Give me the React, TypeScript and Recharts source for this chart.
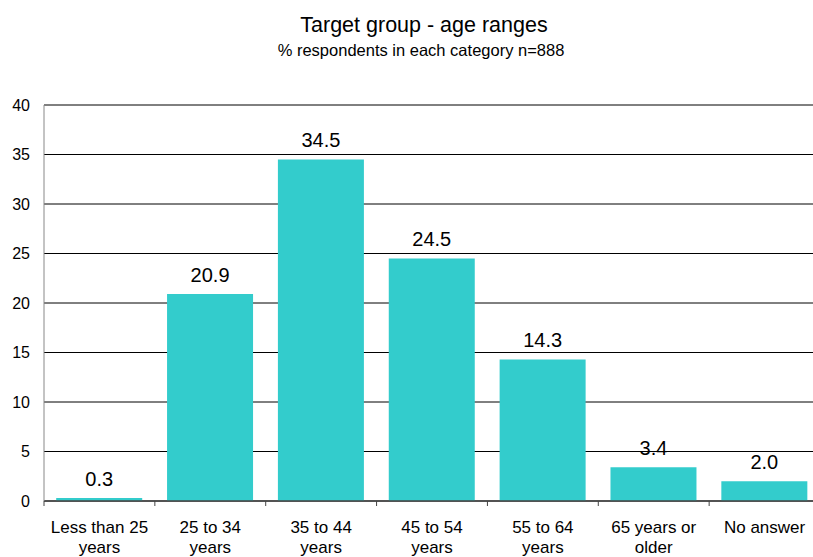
import React from 'react';
import { BarChart, Bar, XAxis, YAxis, CartesianGrid, LabelList, Text } from 'recharts';

const categories = [
  'Less than 25 years',
  '25 to 34 years',
  '35 to 44 years',
  '45 to 54 years',
  '55 to 64 years',
  '65 years or older',
  'No answer',
];
const shares = [0.3, 20.9, 34.5, 24.5, 14.3, 3.4, 2.0];
const yTicks = [0, 5, 10, 15, 20, 25, 30, 35, 40];

const data = categories.map((name, i) => ({ name, value: shares[i] }));

const FONT = '"Liberation Sans", Arial, sans-serif';
const WIDTH = 830;
const HEIGHT = 557;
const MARGIN = { top: 105, right: 10, left: 0, bottom: 0 };
const Y_AXIS_W = 44;
const X_AXIS_H = 56;
const PLOT_BOTTOM = HEIGHT - MARGIN.bottom - X_AXIS_H;
const BAND = (WIDTH - MARGIN.left - MARGIN.right - Y_AXIS_W) / categories.length;

const CategoryTick = (props: any) => {
  const { x, payload, index } = props;
  return (
    <g>
      {index === 0 && (
        <line x1={x - BAND / 2} x2={x - BAND / 2} y1={PLOT_BOTTOM} y2={PLOT_BOTTOM + 5} stroke="#444" />
      )}
      <line x1={x + BAND / 2} x2={x + BAND / 2} y1={PLOT_BOTTOM} y2={PLOT_BOTTOM + 5} stroke="#444" />
      <Text
        x={x}
        y={PLOT_BOTTOM + 20}
        width={98}
        textAnchor="middle"
        verticalAnchor="start"
        lineHeight={20}
        style={{ fontFamily: FONT, fontSize: 17 }}
        fill="#000"
      >
        {payload.value}
      </Text>
    </g>
  );
};

const App: React.FC = () => {
  return (
    <div
      style={{
        position: 'fixed',
        left: 0,
        top: 0,
        width: 813,
        height: 557,
        overflow: 'hidden',
        background: '#fff',
        fontFamily: FONT,
      }}
    >
      <div
        style={{
          position: 'absolute',
          left: 0,
          top: 15,
          width: 848,
          textAlign: 'center',
          fontSize: 21.5,
          lineHeight: '21px',
          color: '#000',
        }}
      >
        Target group - age ranges
      </div>
      <div
        style={{
          position: 'absolute',
          left: 0,
          top: 42,
          width: 842,
          textAlign: 'center',
          fontSize: 16.5,
          lineHeight: '16px',
          color: '#000',
        }}
      >
        % respondents in each category n=888
      </div>
      <div style={{ position: 'absolute', left: 0, top: 0 }}>
        <BarChart width={WIDTH} height={HEIGHT} data={data} margin={MARGIN} barCategoryGap="11%">
          <CartesianGrid horizontal vertical={false} stroke="#000" />
          <XAxis
            dataKey="name"
            height={X_AXIS_H}
            interval={0}
            tickLine={false}
            axisLine={{ stroke: '#444', strokeWidth: 1.5 }}
            tick={<CategoryTick />}
          />
          <YAxis
            width={Y_AXIS_W}
            domain={[0, 40]}
            ticks={yTicks}
            interval={0}
            tickLine={false}
            tickSize={6}
            tickMargin={8}
            axisLine={{ stroke: '#888' }}
            tick={{ fill: '#000', fontSize: 16, fontFamily: FONT }}
          />
          <Bar dataKey="value" fill="#33CCCC" isAnimationActive={false}>
            <LabelList
              dataKey="value"
              position="top"
              offset={12}
              formatter={(v: any) => Number(v).toFixed(1)}
              style={{ fill: '#000', fontSize: 20, fontFamily: FONT }}
            />
          </Bar>
        </BarChart>
      </div>
    </div>
  );
};

export default App;
